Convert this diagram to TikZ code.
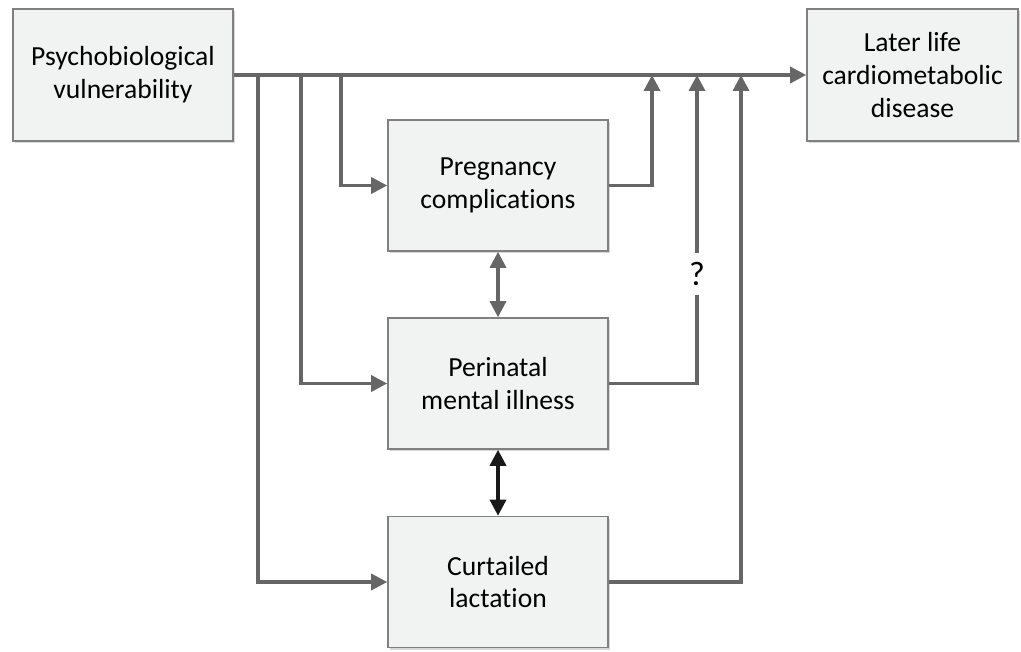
\documentclass[tikz,border=0pt]{standalone}
\usepackage{fontspec}
\setmainfont[Ligatures=NoCommon]{Carlito}
\usepackage{tikz}
\usetikzlibrary{arrows.meta,shadows}

\definecolor{boxfill}{HTML}{F1F2F2}
\definecolor{boxline}{HTML}{808080}
\definecolor{linegray}{HTML}{666666}

\tikzset{
  box/.style={draw=boxline, line width=0.8pt, fill=boxfill, align=center,
              minimum width=110pt, minimum height=65.5pt, inner sep=0pt,
              font=\fontsize{13.8}{16.4}\selectfont,
              drop shadow={shadow xshift=1.2pt, shadow yshift=-1.2pt, fill=black!30, opacity=0.5}},
  link/.style={draw=linegray, line width=1.7pt},
  conn/.style={link, -{Triangle[length=8pt,width=8pt]}},
  both/.style={link, {Triangle[length=8pt,width=8pt]}-{Triangle[length=8pt,width=8pt]}},
}

\begin{document}
\begin{tikzpicture}[x=0.5pt,y=-0.5pt]
\useasboundingbox (0,0) rectangle (1021,652);

%% boxes
\node[box, minimum height=66pt] (vuln) at (123,75) {Psychobiological\\vulnerability};
\node[box, minimum width=105.5pt, minimum height=66pt] (later) at (912.5,75) {Later life\\cardiometabolic\\disease};
\node[box] (preg) at (498,185.5) {Pregnancy\\complications};
\node[box] (peri) at (498,383.5) {Perinatal\\mental illness};
\node[box] (curt) at (498,582) {Curtailed\\lactation};

%% junctions on the main line
\coordinate (a) at (258,75);
\coordinate (b) at (301,75);
\coordinate (c) at (341,75);
\coordinate (d) at (652,75);
\coordinate (e) at (697,75);
\coordinate (f) at (741,75);

%% main line
\draw[conn] (vuln.east) -- (later.west);

%% branches down
\draw[conn] (c) |- (preg.west);
\draw[conn] (b) |- (peri.west);
\draw[conn] (a) |- (curt.west);

%% branches up
\draw[conn] (preg.east) -| (d);
\node[font=\fontsize{17}{18}\selectfont, inner sep=0pt, minimum height=21pt] (q) at (697,274) {?};
\draw[link] (peri.east) -| (q.south);
\draw[conn] (q.north) -- (e);
\draw[conn] (curt.east) -| (f);

%% between boxes
\draw[both] (preg.south) -- (peri.north);
\draw[both, draw=black!90] (peri.south) -- (curt.north);
\end{tikzpicture}
\end{document}
